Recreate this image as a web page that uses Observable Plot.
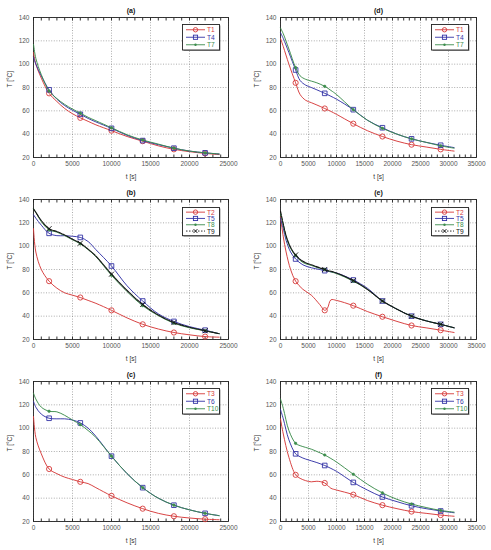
<!DOCTYPE html>
<html><head><meta charset="utf-8">
<script src="https://cdn.jsdelivr.net/npm/d3@7"></script>
<script src="https://cdn.jsdelivr.net/npm/@observablehq/plot@0.6"></script>
<style>
body{margin:0;background:#fff;font-family:"Liberation Sans",Arial,sans-serif;}
#wrap{position:relative;width:491px;height:550px;overflow:hidden;}
.pnl{position:absolute;}
.leg{position:absolute;}
</style></head><body><div id="wrap"></div>
<script>
// ---------- data ----------
const tLeft = [0, 300, 1000, 2000, 3000, 4000, 5000, 6000, 7000, 8000, 10000, 12000, 14000, 16000, 18000, 20000, 22000, 23800];
const tRight = [0, 500, 1500, 2700, 3500, 4500, 5500, 6500, 7900, 9000, 10000, 13000, 15500, 18200, 20800, 23400, 26000, 28600, 31000];
const tE = [0, 500, 1000, 1800, 2700, 4000, 5500, 7000, 7900, 8400, 9000, 10000, 13000, 15500, 18200, 20800, 23400, 26000, 28600, 31000];
const markLeft = [2000, 6000, 10000, 14000, 18000, 22000];
const markRight = [2700, 7900, 13000, 18200, 23400, 28600];

// (a)
const aT1 = [110, 100, 88, 75, 68, 62, 57.5, 54, 51, 48, 43, 38, 34, 30, 27, 25, 23.5, 22.5];
const aT4 = [106, 100, 90, 78, 70, 64.5, 60.5, 57, 53.5, 50.5, 45, 39, 34.5, 31, 28, 25.5, 24, 23];
const aT7 = [117, 105, 91, 77, 70.5, 65.5, 61.5, 58, 54.5, 51.5, 45.5, 39.5, 35, 31.5, 28, 25.5, 24, 23];
// (b)
const bT2 = [115, 95, 80, 70, 64, 60, 58, 56, 53.5, 51, 45, 38.5, 33, 29, 26, 24, 22.5, 22];
const bT5 = [127, 124, 118, 111, 109, 109, 108.5, 107.5, 104, 97, 83, 66, 53, 42, 35.5, 31, 28, 25];
const bT8 = [132, 129, 121, 114, 112, 109, 105.5, 102, 97, 91, 75, 61, 49, 40.5, 34, 30, 27.5, 25];
const bT9 = [132, 129, 122, 115, 112.5, 109.5, 106, 102.5, 97.5, 91.5, 76, 62, 50, 41, 34.5, 30.5, 27.5, 25];
// (c)
const cT3 = [110, 92, 78, 65, 61, 58, 56, 54, 52.5, 49, 42, 36, 31, 27, 24.5, 23, 22, 21.5];
const cT6 = [123, 118, 112, 108.5, 108, 108, 107, 104.5, 100, 93, 76, 61, 49, 40, 34, 30, 27, 25];
const cT10 = [130, 125, 118, 114.5, 114, 111, 107, 103, 98, 92, 76, 61, 49, 40, 34, 30, 27, 25];
// (d)
const dT1 = [122, 115, 100, 84, 74, 69, 67, 65, 62, 59.5, 57, 49, 43, 38, 34, 31, 29, 27, 25.5];
const dT4 = [127, 122, 110, 95, 86, 82, 80, 78, 75, 72.5, 70, 61, 52, 45.5, 40, 36, 33, 30.5, 28.5];
const dT7 = [131, 126, 113, 97, 90, 87, 85.5, 84, 81, 77.5, 74, 61, 52, 45, 40, 36, 33, 30, 28];
// (e)
const eT2 = [125, 108, 95, 80, 70, 63, 58, 50, 45, 47, 54, 53.5, 49, 44, 39.5, 35.5, 32, 30, 28, 26];
const eT5 = [124, 115, 105, 95, 89, 84, 81.5, 80, 79, 78.5, 78, 77, 71, 64, 53, 46, 40, 36, 33, 30];
const eT8 = [128, 118, 108, 98, 92, 86, 83.5, 81, 80, 79, 78, 76.5, 70, 63, 53, 46, 40, 36, 33, 30];
const eT9 = [130, 119, 109, 99, 92.5, 87, 84, 81.5, 80, 79, 78.5, 77, 70.5, 63, 53, 46, 40, 36, 33, 30];
// (f)
const fT3 = [108, 95, 75, 60, 57, 55, 54, 54.5, 53, 48.5, 47, 43, 38, 34, 31, 28.5, 27, 25.5, 24.5];
const fT6 = [116, 108, 90, 78, 75.5, 73.5, 72, 70.5, 68, 65.5, 63, 53.5, 47, 41, 37, 33.5, 31, 29, 27.5];
const fT10 = [125, 117, 98, 87, 85, 83.5, 82, 80, 77, 74, 71, 60.5, 52, 44.5, 39, 35, 32, 29.5, 28];

const xTicksLeft = [0, 5000, 10000, 15000, 20000, 25000];
const xTicksRight = [0, 5000, 10000, 15000, 20000, 25000, 30000, 35000];
const yTicks = [20, 40, 60, 80, 100, 120, 140];

// ---------- styles ----------
const RED = "#d63a3a", BLUE = "#3434a6", GREEN = "#3c8c4c", BLACK = "#151515";
const sty = {
  T1:{c:RED,s:"o"}, T2:{c:RED,s:"o"}, T3:{c:RED,s:"o"},
  T4:{c:BLUE,s:"sq"}, T5:{c:BLUE,s:"sq"}, T6:{c:BLUE,s:"sq"},
  T7:{c:GREEN,s:"dot"}, T8:{c:GREEN,s:"dot"}, T10:{c:GREEN,s:"dot"},
  T9:{c:BLACK,s:"x"}
};

const panels = [
  {title:"(a)", left:0, top:0, right:false, t:tLeft, mk:markLeft, ser:{T1:aT1,T4:aT4,T7:aT7}},
  {title:"(b)", left:0, top:182, right:false, t:tLeft, mk:markLeft, ser:{T2:bT2,T5:bT5,T8:bT8,T9:bT9}},
  {title:"(c)", left:0, top:364, right:false, t:tLeft, mk:markLeft, ser:{T3:cT3,T6:cT6,T10:cT10}},
  {title:"(d)", left:245, top:0, right:true, t:tRight, mk:markRight, ser:{T1:dT1,T4:dT4,T7:dT7}},
  {title:"(e)", left:245, top:182, right:true, t:tE, mk:markRight, ser:{T2:eT2,T5:eT5,T8:eT8,T9:eT9}},
  {title:"(f)", left:245, top:364, right:true, t:tRight, mk:markRight, ser:{T3:fT3,T6:fT6,T10:fT10}}
];

const wrap = document.getElementById("wrap");

function symMark(rows, s, color) {
  const o = {x:"t", y:"v", stroke:color, strokeWidth:0.9};
  if (s === "o") return Plot.dot(rows, {...o, symbol:"circle", r:2.6, fill:"none"});
  if (s === "sq") return Plot.dot(rows, {...o, symbol:"square", r:2.6, fill:"none"});
  if (s === "dot") return Plot.dot(rows, {x:"t", y:"v", symbol:"circle", r:1.3, fill:color, stroke:color, strokeWidth:0.5});
  return Plot.dot(rows, {...o, symbol:"times", r:2.4});
}

const NS = "http://www.w3.org/2000/svg";
function el(tag, attrs) {
  const e = document.createElementNS(NS, tag);
  for (const k in attrs) e.setAttribute(k, attrs[k]);
  return e;
}

for (const p of panels) {
  const xmax = p.right ? 35000 : 25000;
  const xt = p.right ? xTicksRight : xTicksLeft;
  const minor = d3.range(0, xmax + 1, 1000);
  const W = p.right ? 246 : 245;
  const marks = [
    Plot.gridX(xt, {stroke:"#8a8a8a", strokeOpacity:1, strokeDasharray:"1,1.6", strokeWidth:0.7}),
    Plot.gridY(yTicks, {stroke:"#8a8a8a", strokeOpacity:1, strokeDasharray:"1,1.6", strokeWidth:0.7}),
    Plot.axisX({ticks:minor, tickSize:-2.5, tickFormat:() => "", anchor:"bottom", stroke:"#333", label:null}),
    Plot.axisX({ticks:minor, tickSize:-2.5, tickFormat:() => "", anchor:"top", stroke:"#333", label:null}),
    Plot.axisX({ticks:xt, tickSize:0, tickPadding:4, tickFormat:d3.format("d"), fontSize:6.5, fill:"#555", anchor:"bottom", label:null}),
    Plot.axisY({ticks:yTicks, tickSize:0, tickPadding:4, fontSize:6.5, fill:"#555", anchor:"left", label:null}),
    Plot.frame({stroke:"#222", strokeWidth:0.9}),
    Plot.text([p.title], {frameAnchor:"top", dy:-9, fontSize:7, fontWeight:"bold", fill:"#111"}),
    Plot.text(["t [s]"], {frameAnchor:"bottom", dy:21, fontSize:6.5, fill:"#333"}),
    Plot.text(["T [°C]"], {frameAnchor:"left", dx:-24, rotate:-90, fontSize:6.5, fill:"#333"})
  ];
  for (const [name, vals] of Object.entries(p.ser)) {
    const rows = p.t.map((t, i) => ({t, v: vals[i]}));
    const st = sty[name];
    marks.push(Plot.line(rows, {x:"t", y:"v", stroke:st.c, strokeWidth:name === "T9" ? 1.1 : 0.95, curve:"catmull-rom",
      strokeDasharray: name === "T9" ? "4,1" : null}));
    marks.push(symMark(rows.filter(r => p.mk.includes(r.t)), st.s, st.c));
  }
  const svg = Plot.plot({
    width: W, height: 182,
    marginLeft: p.right ? 35 : 33, marginRight: p.right ? 15 : 17,
    marginTop: 17, marginBottom: 25,
    x: {domain:[0, xmax]},
    y: {domain:[20, 140]},
    style: {fontFamily:"'Liberation Sans', Arial, sans-serif", background:"transparent", overflow:"visible"},
    marks
  });
  const div = document.createElement("div");
  div.className = "pnl";
  div.style.left = p.left + "px"; div.style.top = p.top + "px";
  div.appendChild(svg);
  wrap.appendChild(div);

  // legend (SVG overlay)
  const names = Object.keys(p.ser);
  const rh = names.length === 4 ? 6.3 : 7.5;
  const lw = 38, lh = names.length * rh + 4;
  const ls = el("svg", {width: lw + 2, height: lh + 2});
  ls.setAttribute("class", "leg");
  ls.style.left = (p.left + (p.right ? 186 : 182)) + "px";
  ls.style.top = (p.top + (names.length === 4 ? 25 : 24)) + "px";
  ls.appendChild(el("rect", {x:1.5, y:1.5, width:lw - 1, height:lh - 1, fill:"#999"}));
  ls.appendChild(el("rect", {x:0.5, y:0.5, width:lw - 1, height:lh - 1, fill:"#fff", stroke:"#222", "stroke-width":0.9}));
  names.forEach((n, i) => {
    const st = sty[n];
    const cy = 2 + rh * (i + 0.5);
    ls.appendChild(el("line", {x1:4, x2:23, y1:cy, y2:cy, stroke:st.c, "stroke-width":0.9, "stroke-dasharray": n === "T9" ? "1.5,1.5" : "none"}));
    if (st.s === "o") ls.appendChild(el("circle", {cx:13.5, cy, r:2.2, fill:"none", stroke:st.c, "stroke-width":0.9}));
    if (st.s === "sq") ls.appendChild(el("rect", {x:11.4, y:cy - 2.1, width:4.2, height:4.2, fill:"none", stroke:st.c, "stroke-width":0.9}));
    if (st.s === "dot") ls.appendChild(el("circle", {cx:13.5, cy, r:1.2, fill:st.c}));
    if (st.s === "x") ls.appendChild(el("path", {d:`M11.5,${cy-2}L15.5,${cy+2}M15.5,${cy-2}L11.5,${cy+2}`, stroke:st.c, "stroke-width":0.9}));
    const tx = el("text", {x:25, y:cy, "dominant-baseline":"central", "font-size":6.6, fill:st.c, "font-family":"'Liberation Sans', Arial, sans-serif"});
    tx.textContent = n;
    ls.appendChild(tx);
  });
  wrap.appendChild(ls);
}
</script></body></html>
